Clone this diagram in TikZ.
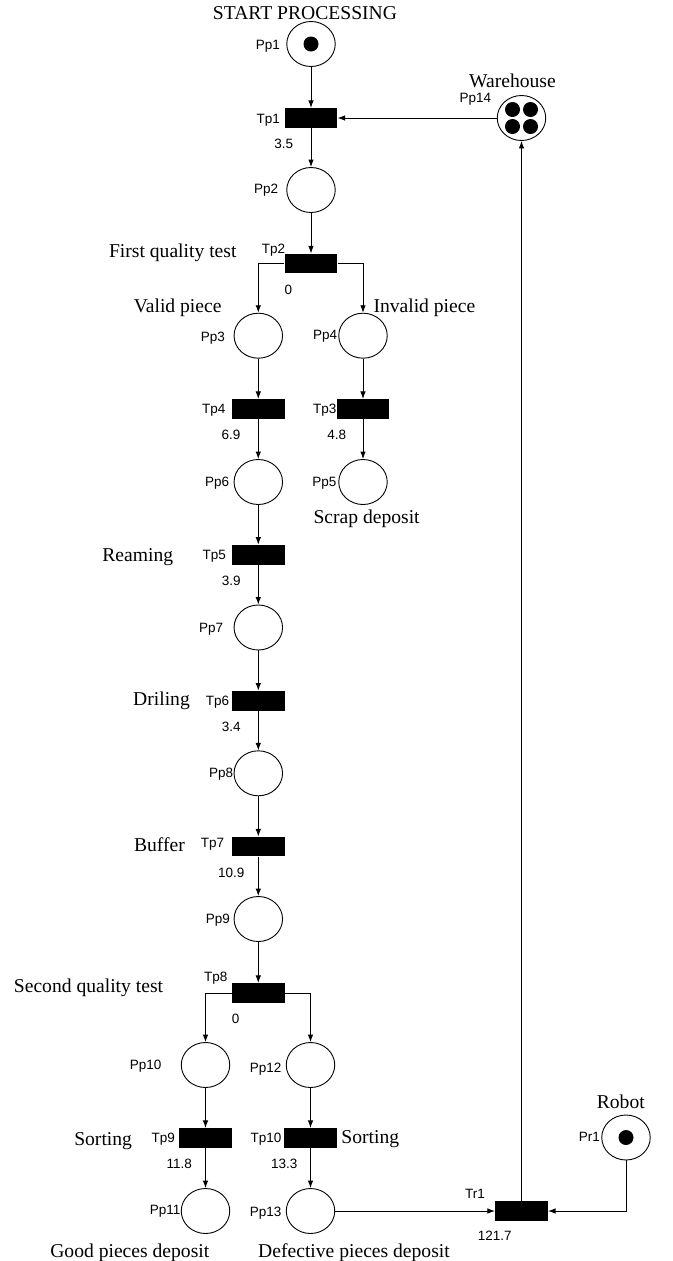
\documentclass[tikz,border=0pt]{standalone}
\usepackage{fontspec}
\setmainfont{Liberation Serif}
\newfontfamily\lsans{Liberation Sans}
\usetikzlibrary{arrows.meta,shapes.geometric}
\begin{document}
\begin{tikzpicture}[x=1bp,y=-1bp,
  place/.style={draw,ellipse,minimum width=48.5bp,minimum height=45bp,inner sep=0pt,line width=0.9bp},
  trans/.style={fill=black,rectangle,minimum width=52.7bp,minimum height=19.7bp,inner sep=0pt},
  tok/.style={fill=black,circle,minimum size=15bp,inner sep=0pt},
  slab/.style={font=\lsans\fontsize{13.5bp}{15bp}\selectfont,inner sep=0pt},
  captxt/.style={font=\fontsize{19.6bp}{22bp}\selectfont,inner sep=0pt},
  parc/.style={line width=0.9bp,-{Latex[length=7.5bp,width=5.5bp]}}]
\useasboundingbox (0,0) rectangle (673,1261);
% places
\node[place] (Pp1) at (311,44) {};
\node[place] (Pp2) at (311,190) {};
\node[place] (Pp3) at (258.3,335.7) {};
\node[place] (Pp4) at (363,335.7) {};
\node[place] (Pp6) at (258.3,482) {};
\node[place] (Pp5) at (363,482) {};
\node[place] (Pp7) at (258.3,627.5) {};
\node[place] (Pp8) at (258.3,773.3) {};
\node[place] (Pp9) at (258.3,919) {};
\node[place] (Pp10) at (205.5,1065) {};
\node[place] (Pp12) at (310.5,1065) {};
\node[place] (Pp11) at (205.5,1211) {};
\node[place] (Pp13) at (310.5,1211) {};
\node[place] (Pr1) at (626,1137.5) {};
\node[place] (Pp14) at (521.5,118) {};
% tokens
\node[tok] (k1) at (Pp1) {};
\node[tok] (k2) at (Pr1) {};
\node[tok] (w1) at (512.5,109.5) {};
\node[tok] (w2) at (530.5,109.5) {};
\node[tok] (w3) at (512.5,126.5) {};
\node[tok] (w4) at (530.5,126.5) {};
% transitions
\node[trans] (Tp1) at (311,118) {};
\node[trans] (Tp2) at (311,263.5) {};
\node[trans] (Tp4) at (258.3,409) {};
\node[trans] (Tp3) at (363,409) {};
\node[trans] (Tp5) at (258.3,554.7) {};
\node[trans] (Tp6) at (258.3,700.7) {};
\node[trans] (Tp7) at (258.3,846.5) {};
\node[trans] (Tp8) at (258.3,993) {};
\node[trans] (Tp9) at (205.5,1138) {};
\node[trans] (Tp10) at (310.5,1138) {};
\node[trans] (Tr1) at (521.5,1211) {};
% arcs
\draw[parc] (Pp1) -- (Tp1);
\draw[parc] (Tp1) -- (Pp2);
\draw[parc] (Pp2) -- (Tp2);
\draw[parc] (Tp2.west) -| (Pp3.north);
\draw[parc] (Tp2.east) -| (Pp4.north);
\draw[parc] (Pp3) -- (Tp4);
\draw[parc] (Tp4) -- (Pp6);
\draw[parc] (Pp4) -- (Tp3);
\draw[parc] (Tp3) -- (Pp5);
\draw[parc] (Pp6) -- (Tp5);
\draw[parc] (Tp5) -- (Pp7);
\draw[parc] (Pp7) -- (Tp6);
\draw[parc] (Tp6) -- (Pp8);
\draw[parc] (Pp8) -- (Tp7);
\draw[parc] (Tp7) -- (Pp9);
\draw[parc] (Pp9) -- (Tp8);
\draw[parc] (Tp8.west) -| (Pp10.north);
\draw[parc] (Tp8.east) -| (Pp12.north);
\draw[parc] (Pp10) -- (Tp9);
\draw[parc] (Tp9) -- (Pp11);
\draw[parc] (Pp12) -- (Tp10);
\draw[parc] (Tp10) -- (Pp13);
\draw[parc] (Pp13) -- (Tr1);
\draw[parc] (Pr1.south) |- (Tr1.east);
\draw[parc] (Tr1) -- (Pp14);
\draw[parc] (Pp14) -- (Tp1);
% serif captions
\node[captxt] (c1) at (305,13) {START PROCESSING};
\node[captxt,anchor=mid east] (c2) at (236.7,255) {First quality test};
\node[captxt,anchor=mid east] (c3) at (221.7,310) {Valid piece};
\node[captxt,anchor=mid west] (c4) at (373.3,310) {Invalid piece};
\node[captxt,anchor=mid west] (c5) at (313.3,521.5) {Scrap deposit};
\node[captxt,anchor=mid east] (c6) at (173.3,559.5) {Reaming};
\node[captxt,anchor=mid east] (c7) at (190,703.5) {Driling};
\node[captxt,anchor=mid east] (c8) at (185,849) {Buffer};
\node[captxt,anchor=mid east] (c9) at (163.3,990) {Second quality test};
\node[captxt,anchor=mid east] (c10) at (132.2,1143) {Sorting};
\node[captxt,anchor=mid west] (c11) at (341.2,1141.5) {Sorting};
\node[captxt] (c12) at (620.8,1102) {Robot};
\node[captxt] (c13) at (512.5,81) {Warehouse};
\node[captxt] (c14) at (129.8,1253) {Good pieces deposit};
\node[captxt] (c15) at (354,1253) {Defective pieces deposit};
% small labels
\node[slab,anchor=mid east] (l1) at (280,47) {Pp1};
\node[slab,anchor=mid east] (l2) at (280,121) {Tp1};
\node[slab] (l3) at (283.7,144) {3.5};
\node[slab,anchor=mid east] (l4) at (278.3,191) {Pp2};
\node[slab,anchor=mid east] (l5) at (285.3,251) {Tp2};
\node[slab] (l6) at (288.3,289.7) {0};
\node[slab,anchor=mid east] (l7) at (225,339) {Pp3};
\node[slab,anchor=mid east] (l8) at (337.3,337.7) {Pp4};
\node[slab,anchor=mid east] (l9) at (225.5,411) {Tp4};
\node[slab] (l10) at (231,435) {6.9};
\node[slab,anchor=mid east] (l11) at (336.7,411) {Tp3};
\node[slab] (l12) at (336.7,435) {4.8};
\node[slab,anchor=mid east] (l13) at (229.3,484) {Pp6};
\node[slab,anchor=mid east] (l14) at (336.7,484.7) {Pp5};
\node[slab,anchor=mid east] (l15) at (226,557.5) {Tp5};
\node[slab] (l16) at (231.3,581) {3.9};
\node[slab,anchor=mid east] (l17) at (223.3,630) {Pp7};
\node[slab,anchor=mid east] (l18) at (229.3,703.5) {Tp6};
\node[slab] (l19) at (231.3,727) {3.4};
\node[slab,anchor=mid east] (l20) at (233.3,775.3) {Pp8};
\node[slab,anchor=mid east] (l21) at (224.3,845.5) {Tp7};
\node[slab] (l22) at (231.3,872.7) {10.9};
\node[slab,anchor=mid east] (l23) at (230,921) {Pp9};
\node[slab,anchor=mid east] (l24) at (227.7,978.7) {Tp8};
\node[slab] (l25) at (235.7,1018.7) {0};
\node[slab,anchor=mid east] (l26) at (161.7,1067) {Pp10};
\node[slab,anchor=mid east] (l27) at (281.7,1070) {Pp12};
\node[slab,anchor=mid east] (l28) at (175,1139.7) {Tp9};
\node[slab,anchor=mid east] (l29) at (281.7,1140) {Tp10};
\node[slab] (l30) at (179.3,1163.7) {11.8};
\node[slab] (l31) at (284.2,1163.7) {13.3};
\node[slab,anchor=mid east] (l32) at (180.7,1212) {Pp11};
\node[slab,anchor=mid east] (l33) at (281.7,1213.7) {Pp13};
\node[slab,anchor=mid east] (l34) at (600,1139.3) {Pr1};
\node[slab] (l35) at (475,1194.3) {Tr1};
\node[slab] (l36) at (494.7,1236) {121.7};
\node[slab] (l37) at (475.3,99) {Pp14};
\end{tikzpicture}
\end{document}
